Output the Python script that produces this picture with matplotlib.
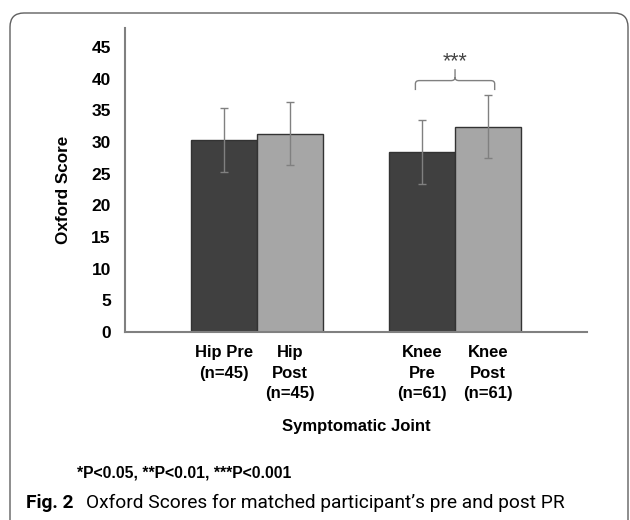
import matplotlib
matplotlib.use("Agg")
import matplotlib.pyplot as plt
from matplotlib.patches import FancyBboxPatch, PathPatch
from matplotlib.path import Path

# values
labels = ["Hip Pre\n(n=45)", "Hip\nPost\n(n=45)", "Knee\nPre\n(n=61)", "Knee\nPost\n(n=61)"]
positions = [0, 1, 3, 4]
scores = [30.3, 31.3, 28.4, 32.4]
errors = [5.0, 5.0, 5.0, 5.0]
colors = ["#404040", "#a6a6a6", "#404040", "#a6a6a6"]
yticks = [0, 5, 10, 15, 20, 25, 30, 35, 40, 45]

plt.rcParams["font.family"] = ["Liberation Sans", "DejaVu Sans"]

fig = plt.figure(figsize=(6.3, 5.2), dpi=100)
ax = fig.add_axes([0.198, 0.3615, 0.734, 0.5846])

ax.bar(positions, scores, width=1.0, color=colors, edgecolor="#333333", lw=1.0,
       zorder=2)
ax.errorbar(positions, scores, yerr=errors, fmt="none", ecolor="#808080",
            elinewidth=1.0, capsize=3, capthick=1.0, zorder=3)

ax.set_xlim(-1.5, 5.5)
ax.set_ylim(0, 48)
ax.set_yticks(yticks)
ax.set_yticklabels([str(t) for t in yticks], fontsize=12.5, fontweight="bold")
ax.set_xticks(positions)
ax.set_xticklabels(labels, fontsize=12, fontweight="bold", va="top",
                   linespacing=1.45)
ax.tick_params(axis="both", length=0)
ax.tick_params(axis="y", pad=10)
ax.tick_params(axis="x", pad=9.5)

for s in ["top", "right"]:
    ax.spines[s].set_visible(False)
for s in ["left", "bottom"]:
    ax.spines[s].set_color("#808080")
    ax.spines[s].set_linewidth(1.5)

# significance bracket between the knee bars (brace with rounded corners)
bx0, bx1, bmid = 2.9, 4.1, 3.5
by0, by1, bytop = 38.2, 39.7, 41.5
rx, ry = 0.06, 0.5
verts = [(bx0, by0), (bx0, by1 - ry), (bx0, by1), (bx0 + rx, by1),
         (bmid - rx, by1), (bmid, by1), (bmid, by1 + ry), (bmid, bytop),
         (bmid, by1 + ry), (bmid, by1), (bmid + rx, by1),
         (bx1 - rx, by1), (bx1, by1), (bx1, by1 - ry), (bx1, by0)]
codes = [Path.MOVETO, Path.LINETO, Path.CURVE3, Path.CURVE3,
         Path.LINETO, Path.CURVE3, Path.CURVE3, Path.LINETO,
         Path.MOVETO, Path.CURVE3, Path.CURVE3,
         Path.LINETO, Path.CURVE3, Path.CURVE3, Path.LINETO]
ax.add_patch(PathPatch(Path(verts, codes), fill=False, edgecolor="#808080",
                       lw=1.0, clip_on=False))
ax.text(bmid, 42.7, "***", ha="center", va="center", fontsize=15.5,
        color="#444444")

fig.text(64 / 630, 1 - 190 / 520, "Oxford Score", rotation=90, ha="center",
         va="center", fontsize=12.3, fontweight="bold")
fig.text(356 / 630, 1 - 427 / 520, "Symptomatic Joint", ha="center",
         va="center", fontsize=12, fontweight="bold")
fig.text(77 / 630, 1 - 473 / 520, "*P<0.05, **P<0.01, ***P<0.001",
         ha="left", va="center", fontsize=11.3, fontweight="bold")

cap_font = ["Roboto", "DejaVu Sans"]
fig.text(26 / 630, 1 - 503 / 520, "Fig. 2", ha="left", va="center",
         fontsize=13.8, fontweight="bold", family=cap_font)
fig.text(86 / 630, 1 - 503 / 520,
         "Oxford Scores for matched participant\u2019s pre and post PR",
         ha="left", va="center", fontsize=13.8, family=cap_font)

# rounded frame around the figure panel
frame = FancyBboxPatch((10, -60), 618, 567, boxstyle="round,pad=0,rounding_size=14",
                       transform=None, fill=False, edgecolor="#606060", lw=1.0)
fig.patches.append(frame)

fig.savefig("out.png", dpi=100)
